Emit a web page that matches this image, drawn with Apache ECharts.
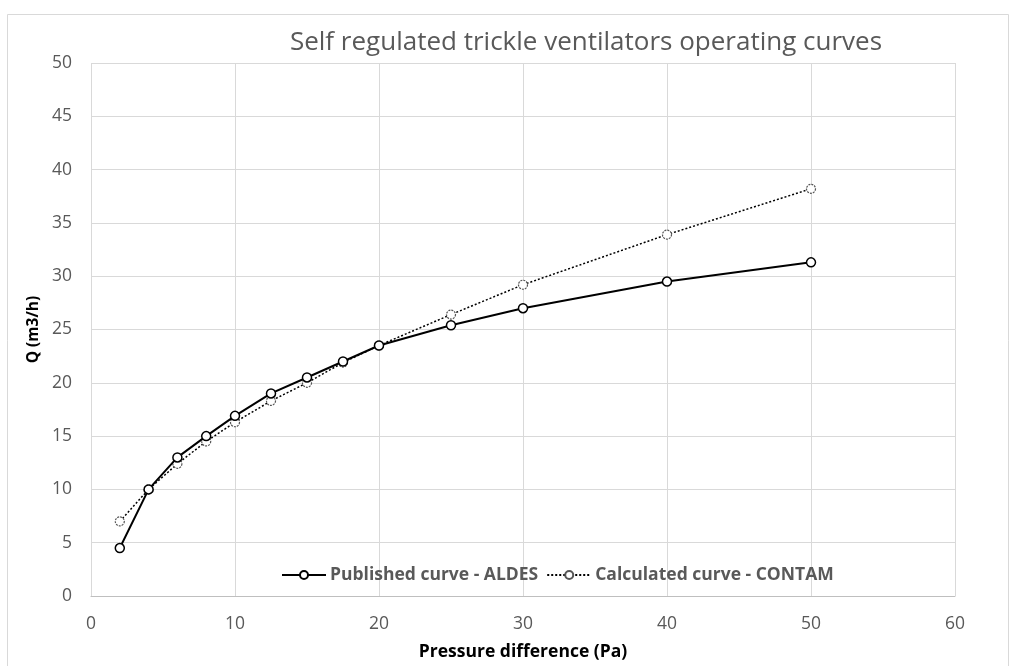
<!DOCTYPE html>
<html><head><meta charset="utf-8">
<script src="https://cdn.jsdelivr.net/npm/echarts@6/dist/echarts.min.js"></script>
<style>html,body{margin:0;padding:0;background:#fff}#c{width:1017px;height:666px}</style>
</head><body><div id="c"></div>
<script>
const pressure = [2, 4, 6, 8, 10, 12.5, 15, 17.5, 20, 25, 30, 40, 50];
const aldes = [4.5, 10.0, 13.0, 15.0, 16.9, 19.0, 20.5, 22.0, 23.5, 25.4, 27.0, 29.5, 31.3];
const contam = [7.0, 10.0, 12.4, 14.5, 16.3, 18.3, 20.0, 21.9, 23.5, 26.4, 29.2, 33.9, 38.2];
const seriesNames = ['Published curve - ALDES', 'Calculated curve - CONTAM'];
const titleText = 'Self regulated trickle ventilators operating curves';
const xTitle = 'Pressure difference (Pa)';
const yTitle = 'Q (m3/h)';

const font = "'Open Sans', 'Liberation Sans', sans-serif";
const chart = echarts.init(document.getElementById('c'), null, {renderer: 'canvas'});
chart.setOption({
  animation: false,
  backgroundColor: '#fff',
  title: {
    text: titleText, left: 581, top: 25, textAlign: 'center',
    textStyle: {fontFamily: font, fontSize: 26, fontWeight: 'normal', color: '#595959'}
  },
  legend: {
    left: 276, top: 561, itemGap: 8, itemWidth: 44, itemHeight: 10,
    textStyle: {fontFamily: font, fontSize: 17.5, fontWeight: 'bold', color: '#595959', padding: [0, 0, 0, -1]},
    data: seriesNames
  },
  grid: {left: 91, right: 62, top: 63, bottom: 68},
  xAxis: {
    type: 'value', min: 0, max: 60, interval: 10,
    name: xTitle, nameLocation: 'middle', nameGap: 47,
    nameTextStyle: {fontFamily: font, fontSize: 17.5, fontWeight: 'bold', color: '#000'},
    axisLine: {show: true, lineStyle: {color: '#bfbfbf', width: 1}},
    axisTick: {show: false},
    axisLabel: {fontFamily: font, fontSize: 17.5, color: '#595959', margin: 19},
    splitLine: {show: true, lineStyle: {color: '#d9d9d9', width: 1}}
  },
  yAxis: {
    type: 'value', min: 0, max: 50, interval: 5,
    name: yTitle, nameLocation: 'middle', nameGap: 49, nameRotate: 90,
    nameTextStyle: {fontFamily: font, fontSize: 15.5, fontWeight: 'bold', color: '#000'},
    axisLine: {show: false},
    axisTick: {show: false},
    axisLabel: {fontFamily: font, fontSize: 17.5, color: '#595959', margin: 19},
    splitLine: {show: true, lineStyle: {color: '#d9d9d9', width: 1}}
  },
  series: [
    {
      name: seriesNames[0], type: 'line',
      data: pressure.map((p, i) => [p, aldes[i]]),
      symbol: 'circle', symbolSize: 9, showAllSymbol: true,
      lineStyle: {color: '#000', width: 2},
      itemStyle: {color: '#fff', borderColor: '#000', borderWidth: 1.5},
      z: 3
    },
    {
      name: seriesNames[1], type: 'line',
      data: pressure.map((p, i) => [p, contam[i]]),
      symbol: 'circle', symbolSize: 9, showAllSymbol: true,
      lineStyle: {color: '#000', width: 1.5, type: [2, 2]},
      itemStyle: {color: '#fff', borderColor: '#555', borderWidth: 1.2, borderType: [2, 1]},
      z: 2
    }
  ],
  graphic: [{
    type: 'rect', shape: {x: 7.5, y: 14.5, width: 1001, height: 670},
    style: {fill: 'none', stroke: '#d9d9d9', lineWidth: 1}, silent: true
  }]
});
</script></body></html>
